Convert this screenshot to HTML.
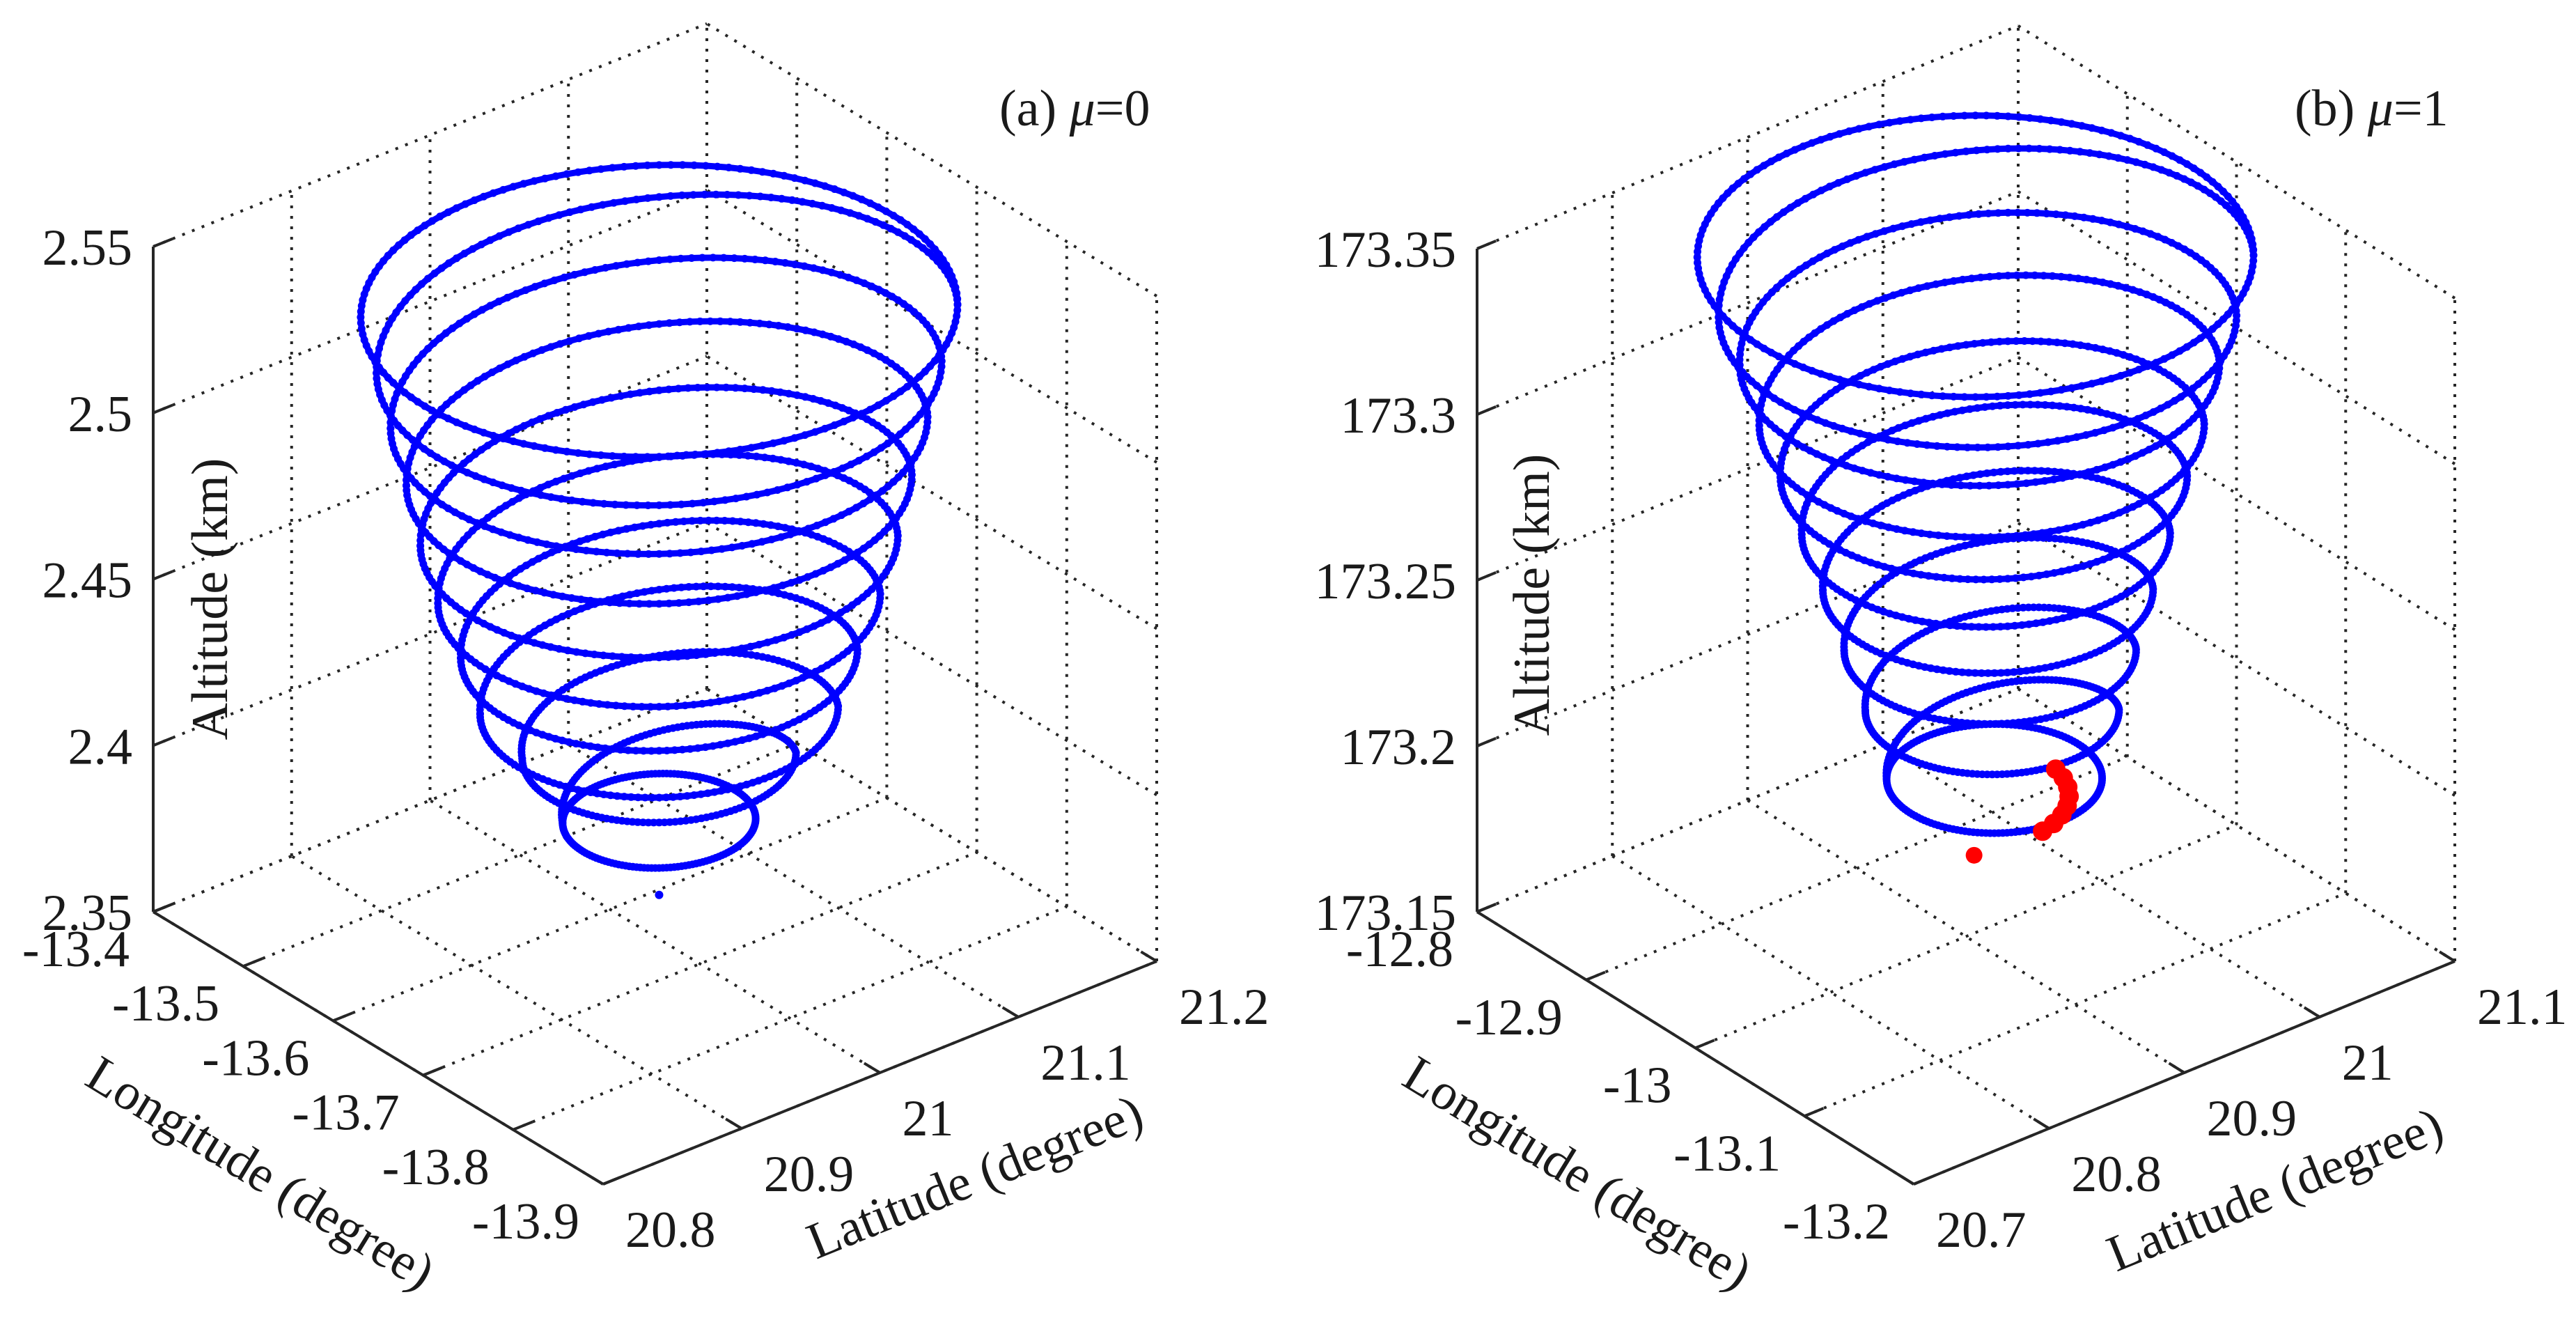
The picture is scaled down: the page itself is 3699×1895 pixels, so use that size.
<!DOCTYPE html>
<html><head><meta charset="utf-8"><style>
html,body{margin:0;padding:0;background:#fff}
svg{display:block}
text{font-family:"Liberation Serif",serif;fill:#1a1a1a}
</style></head><body>
<svg id="fig" width="3699" height="1895" viewBox="0 0 3699 1895" xmlns="http://www.w3.org/2000/svg">
<rect width="3699" height="1895" fill="#fff"/>
</svg>
<script>
// ---------- data: panel (a) mu=0 ----------
const zTicksA = [2.35, 2.4, 2.45, 2.5, 2.55];
const zLabelsA = ["2.35", "2.4", "2.45", "2.5", "2.55"];
const lonTicksA = [-13.4, -13.5, -13.6, -13.7, -13.8, -13.9];
const lonLabelsA = ["-13.4", "-13.5", "-13.6", "-13.7", "-13.8", "-13.9"];
const latTicksA = [20.8, 20.9, 21, 21.1, 21.2];
const latLabelsA = ["20.8", "20.9", "21", "21.1", "21.2"];
const ringAltA = [2.5376, 2.5207, 2.504, 2.4867, 2.4685, 2.4511, 2.4345, 2.4176, 2.4039, 2.3843];
const ringRadA = [0.170, 0.161, 0.153, 0.144, 0.136, 0.126, 0.113, 0.102, 0.078, 0.055];
const ringLonA = [-13.65, -13.65, -13.65, -13.65, -13.65, -13.65, -13.65, -13.65, -13.65, -13.65];
const ringLatA = [21.003, 21.003, 21.003, 21.003, 21.003, 21.003, 21.003, 21.003, 21.003, 21.003];
const endLonA = [-13.65];
const endLatA = [21.003];
const endAltA = [2.362];

// ---------- data: panel (b) mu=1 ----------
const zTicksB = [173.15, 173.2, 173.25, 173.3, 173.35];
const zLabelsB = ["173.15", "173.2", "173.25", "173.3", "173.35"];
const lonTicksB = [-12.8, -12.9, -13, -13.1, -13.2];
const lonLabelsB = ["-12.8", "-12.9", "-13", "-13.1", "-13.2"];
const latTicksB = [20.7, 20.8, 20.9, 21, 21.1];
const latLabelsB = ["20.7", "20.8", "20.9", "21", "21.1"];
const ringAltB = [173.354, 173.3356, 173.3209, 173.3024, 173.2865, 173.269, 173.2519, 173.2334, 173.215, 173.1941];
const ringRadB = [0.160, 0.149, 0.138, 0.128, 0.117, 0.106, 0.095, 0.084, 0.073, 0.062];
const ringLonB = [-13.0, -13.0, -13.0, -13.0, -13.0, -13.0, -13.0, -13.0, -13.0, -13.0];
const ringLatB = [20.907, 20.9086, 20.9101, 20.9117, 20.9132, 20.9148, 20.9163, 20.9179, 20.9194, 20.921];
const redLonB = [-13.0137, -13.0241, -13.0339, -13.0427, -13.0503, -13.0564, -13.061, -13.0638];
const redLatB = [20.9553, 20.9525, 20.9479, 20.9418, 20.9342, 20.9254, 20.9156, 20.9052];
const redAltB = [173.194, 173.194, 173.194, 173.194, 173.194, 173.194, 173.194, 173.194];
const redDotLonB = [-13.0];
const redDotLatB = [20.906];
const redDotAltB = [173.1735];

const NS = "http://www.w3.org/2000/svg";
const svg = document.getElementById("fig");
function mk(tag, attrs, parent) {
  const e = document.createElementNS(NS, tag);
  for (const k in attrs) e.setAttribute(k, attrs[k]);
  (parent || svg).appendChild(e);
  return e;
}

function drawPanel(cfg) {
  const g = mk("g", {});
  
  
  const lonMin = Math.min(...cfg.lonTicks), lonMax = Math.max(...cfg.lonTicks);
  const latMin = Math.min(...cfg.latTicks), latMax = Math.max(...cfg.latTicks);
  const zMin = Math.min(...cfg.zTicks), zMax = Math.max(...cfg.zTicks);
  function P(lon, lat, z) {
    const u = (lon - lonMin) / (lonMax - lonMin);
    const v = (lat - latMin) / (latMax - latMin);
    const w = (z - zMin) / (zMax - zMin);
    return [cfg.front[0] + u * cfg.left[0] + v * cfg.right[0],
            cfg.front[1] + u * cfg.left[1] + v * cfg.right[1] - w * cfg.height];
  }
  const grid = mk("g", {stroke: "#262626", "stroke-width": 4, "stroke-dasharray": "4 11", fill: "none"}, g);
  
  
  function line(a, b, parent) {
    return mk("line", {x1: a[0], y1: a[1], x2: b[0], y2: b[1]}, parent);
  }
  cfg.lonTicks.forEach(lo => line(P(lo, latMin, zMin), P(lo, latMax, zMin), grid));
  cfg.latTicks.forEach(la => line(P(lonMin, la, zMin), P(lonMax, la, zMin), grid));
  cfg.latTicks.forEach(la => line(P(lonMax, la, zMin), P(lonMax, la, zMax), grid));
  cfg.zTicks.forEach(z => line(P(lonMax, latMin, z), P(lonMax, latMax, z), grid));
  cfg.lonTicks.forEach(lo => line(P(lo, latMax, zMin), P(lo, latMax, zMax), grid));
  cfg.zTicks.forEach(z => line(P(lonMin, latMax, z), P(lonMax, latMax, z), grid));

  const ax = mk("g", {stroke: "#262626", "stroke-width": 4, fill: "none"}, g);
  
  
  line(P(lonMax, latMin, zMin), P(lonMax, latMin, zMax), ax);
  line(P(lonMax, latMin, zMin), P(lonMin, latMin, zMin), ax);
  line(P(lonMin, latMin, zMin), P(lonMin, latMax, zMin), ax);
  const tl = 0.035;
  cfg.zTicks.forEach(z => line(P(lonMax, latMin, z), P(lonMax, latMin + tl * (latMax - latMin), z), ax));
  cfg.lonTicks.forEach(lo => line(P(lo, latMin, zMin), P(lo, latMin + tl * (latMax - latMin), zMin), ax));
  cfg.latTicks.forEach(la => line(P(lonMin, la, zMin), P(lonMin + tl * (lonMax - lonMin), la, zMin), ax));

  const fs = 74;
  cfg.zTicks.forEach((z, i) => {
    const p = P(lonMax, latMin, z);
    const t = mk("text", {x: p[0] - 30, y: p[1] + 26, "font-size": fs, "text-anchor": "end"}, g);
    t.textContent = cfg.zLabels[i];
    
    
  });
  cfg.lonTicks.forEach((lo, i) => {
    const p = P(lo, latMin, zMin);
    const t = mk("text", {x: p[0] - 34, y: p[1] + 78, "font-size": fs, "text-anchor": "end"}, g);
    t.textContent = cfg.lonLabels[i];
    
    
  });
  cfg.latTicks.forEach((la, i) => {
    const p = P(lonMin, la, zMin);
    const t = mk("text", {x: p[0] + 32, y: p[1] + 90, "font-size": fs, "text-anchor": "start"}, g);
    t.textContent = cfg.latLabels[i];
    
    
  });

  let t = mk("text", {x: 0, y: 0, "font-size": fs, "text-anchor": "middle", "dominant-baseline": "central",
    transform: `translate(${cfg.altPos[0]},${cfg.altPos[1]}) rotate(-90)`}, g);
  t.textContent = "Altitude (km)";
  
  
  t = mk("text", {x: 0, y: 0, "font-size": fs, "text-anchor": "middle", "dominant-baseline": "central",
    transform: `translate(${cfg.lonPos[0]},${cfg.lonPos[1]}) rotate(31.5)`}, g);
  t.textContent = "Longitude (degree)";
  
  
  t = mk("text", {x: 0, y: 0, "font-size": fs, "text-anchor": "middle", "dominant-baseline": "central",
    transform: `translate(${cfg.latPos[0]},${cfg.latPos[1]}) rotate(-22)`}, g);
  t.textContent = "Latitude (degree)";
  
  
  t = mk("text", {x: cfg.titlePos[0], y: cfg.titlePos[1], "font-size": 74}, g);
  t.innerHTML = cfg.title + ' <tspan font-style="italic">μ</tspan>=' + cfg.mu;
  
  

  // helix: front half of each ring flat at ring value, back half descends to next ring
  const hg = mk("g", {}, g);
  
  
  const pts = [];
  const aS = cfg.lonScale;
  const o = P(cfg.ringLon[0], cfg.ringLat[0], zMin);
  const pl1 = P(cfg.ringLon[0] + aS, cfg.ringLat[0], zMin);
  const pt1 = P(cfg.ringLon[0], cfg.ringLat[0] + 1, zMin);
  const thR = Math.atan2(pt1[0] - o[0], pl1[0] - o[0]);
  const thL = thR + Math.PI;
  const N = 80;
  const nR = cfg.ringAlt.length;
  function ringPt(i, j, f, th) {
    const r = cfg.ringRad[i] + (cfg.ringRad[j] - cfg.ringRad[i]) * f;
    const a = cfg.ringAlt[i] + (cfg.ringAlt[j] - cfg.ringAlt[i]) * f;
    const lo = cfg.ringLon[i] + (cfg.ringLon[j] - cfg.ringLon[i]) * f;
    const la = cfg.ringLat[i] + (cfg.ringLat[j] - cfg.ringLat[i]) * f;
    return P(lo + aS * r * Math.cos(th), la + r * Math.sin(th), a);
  }
  for (let k = 0; k < N; k++) pts.push(ringPt(0, 0, 0, thR - (k / N) * Math.PI));
  for (let i = 0; i < nR; i++) {
    const j = Math.min(i + 1, nR - 1);
    for (let k = 0; k < N; k++) pts.push(ringPt(i, i, 0, thL - (k / N) * Math.PI));
    for (let k = 0; k <= N; k++) {
      const f = k / N;
      pts.push(ringPt(i, j, f, thR - f * Math.PI));
    }
  }
  const pl = mk("polyline", {points: pts.map(p => p[0].toFixed(1) + "," + p[1].toFixed(1)).join(" "),
    fill: "none", stroke: "#0000ff", "stroke-width": 9, "stroke-linejoin": "round"}, hg);
  
  
  pts.forEach(p => {
    const c = mk("circle", {cx: p[0].toFixed(1), cy: p[1].toFixed(1), r: 5.5, fill: "#0000ff"}, hg);
    
    
  });
  if (cfg.endLon) cfg.endLon.forEach((lo, i) => {
    const p = P(lo, cfg.endLat[i], cfg.endAlt[i]);
    const c = mk("circle", {cx: p[0], cy: p[1], r: 6, fill: "#0000ff"}, hg);
    
    
  });
  if (cfg.redLon) {
    const rg = mk("g", {fill: "#ff0000"}, g);
    
    
    cfg.redLon.forEach((lo, i) => {
      const p = P(lo, cfg.redLat[i], cfg.redAlt[i]);
      const c = mk("circle", {cx: p[0], cy: p[1], r: 14}, rg);
      
      
    });
    cfg.redDotLon.forEach((lo, i) => {
      const p = P(lo, cfg.redDotLat[i], cfg.redDotAlt[i]);
      const c = mk("circle", {cx: p[0], cy: p[1], r: 12}, rg);
      
      
    });
  }
}

drawPanel({
  name: "panel-a", title: "(a)", mu: "0", lonScale: 1.2,
  front: [866, 1700], left: [-646, -391], right: [795, -320], height: 955,
  zTicks: zTicksA, zLabels: zLabelsA, lonTicks: lonTicksA, lonLabels: lonLabelsA,
  latTicks: latTicksA, latLabels: latLabelsA,
  ringAlt: ringAltA, ringRad: ringRadA, ringLon: ringLonA, ringLat: ringLatA,
  endLon: endLonA, endLat: endLatA, endAlt: endAltA,
  altPos: [302, 860], lonPos: [374, 1684], latPos: [1400, 1690], titlePos: [1435, 180]
});
drawPanel({
  name: "panel-b", title: "(b)", mu: "1", lonScale: 1.0,
  front: [2748, 1700], left: [-627, -391], right: [777, -320], height: 952,
  zTicks: zTicksB, zLabels: zLabelsB, lonTicks: lonTicksB, lonLabels: lonLabelsB,
  latTicks: latTicksB, latLabels: latLabelsB,
  ringAlt: ringAltB, ringRad: ringRadB, ringLon: ringLonB, ringLat: ringLatB,
  redLon: redLonB, redLat: redLatB, redAlt: redAltB,
  redDotLon: redDotLonB, redDotLat: redDotLatB, redDotAlt: redDotAltB,
  altPos: [2200, 854], lonPos: [2265, 1684], latPos: [3267, 1708], titlePos: [3295, 180]
});
</script>
</body></html>
